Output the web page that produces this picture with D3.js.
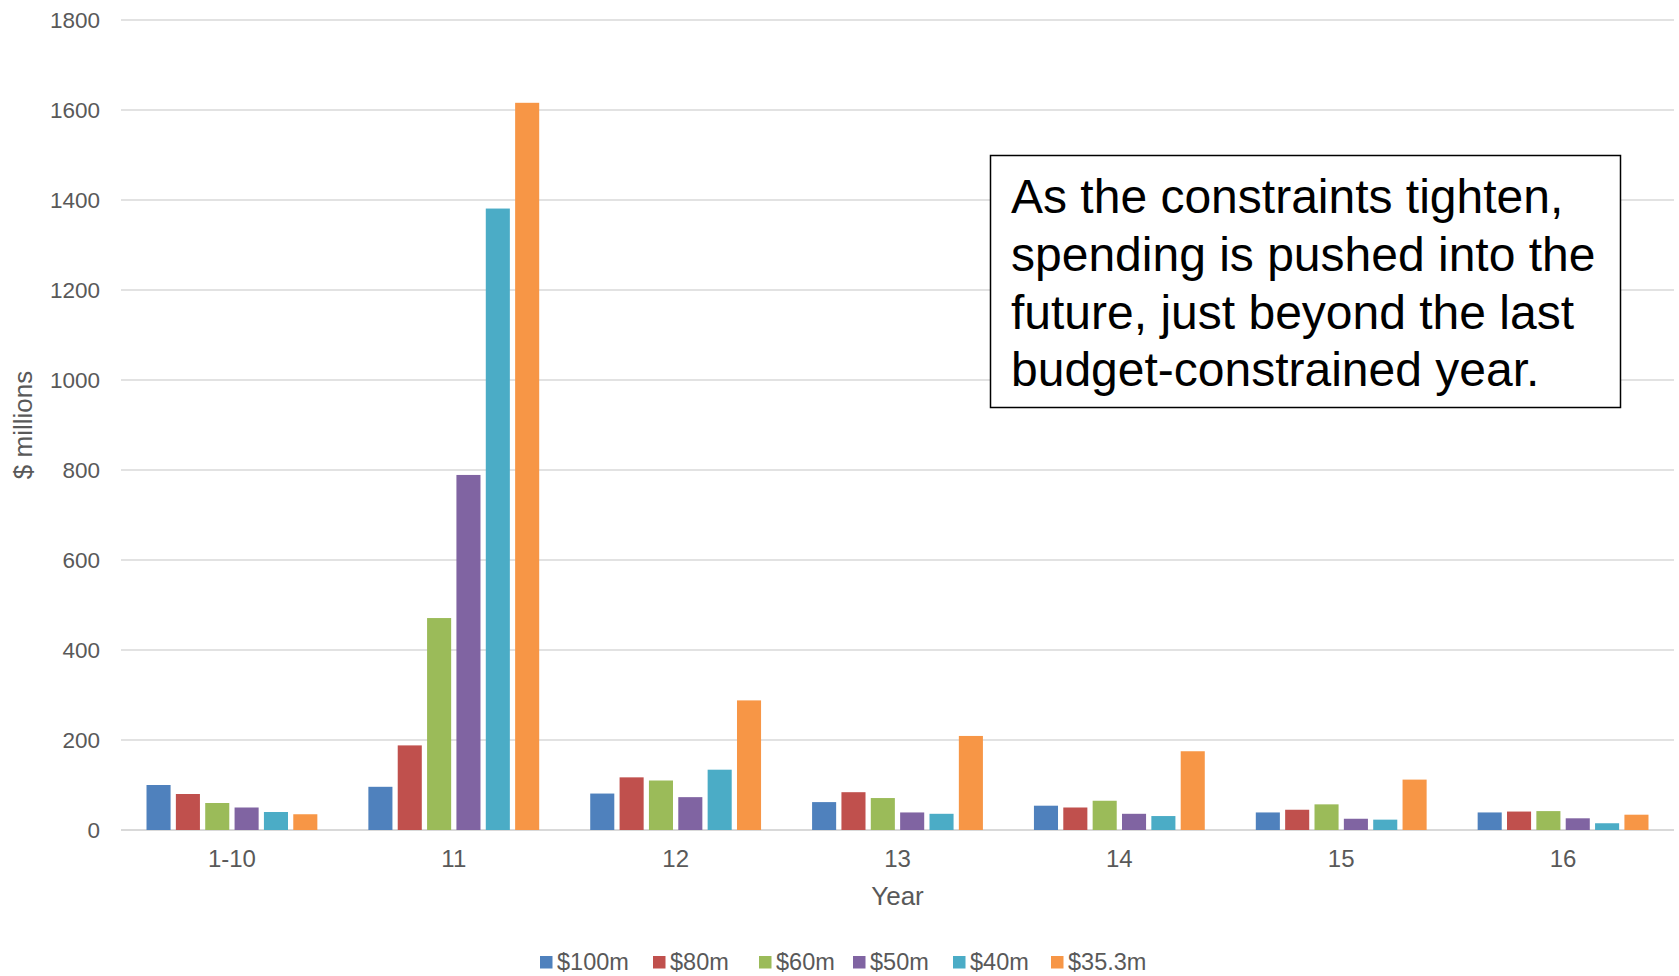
<!DOCTYPE html>
<html>
<head>
<meta charset="utf-8">
<script src="https://cdnjs.cloudflare.com/ajax/libs/d3/7.8.5/d3.min.js"></script>
<style>
  body { margin: 0; background: #fff; }
  text { font-family: "Liberation Sans", Arial, sans-serif; }
</style>
</head>
<body>
<svg id="chart" width="1679" height="976"></svg>
<script>
// chart data
var years = ["1-10", "11", "12", "13", "14", "15", "16"];
var seriesNames = ["$100m", "$80m", "$60m", "$50m", "$40m", "$35.3m"];
var colors = ["#4F81BD", "#C0504D", "#9BBB59", "#8064A2", "#4BACC6", "#F79646"];
var s100 = [100, 96, 81, 62, 54, 39, 39];
var s80 = [80, 188, 117, 84, 50, 45, 41];
var s60 = [60, 471, 110, 71, 65, 57, 42];
var s50 = [50, 789, 73, 39, 36, 25, 26];
var s40 = [40, 1381, 134, 36, 31, 23, 15];
var s35 = [35, 1616, 288, 209, 175, 112, 34];
var yTicks = [0, 200, 400, 600, 800, 1000, 1200, 1400, 1600, 1800];
var note = ["As the constraints tighten,", "spending is pushed into the",
            "future, just beyond the last", "budget-constrained year."];

var allSeries = [s100, s80, s60, s50, s40, s35];

var svg = d3.select("#chart");
var margin = {left: 121, right: 5, top: 20, bottom: 146};
var width = 1679 - margin.left - margin.right;
var height = 976 - margin.top - margin.bottom;

var g = svg.append("g")
    .attr("transform", "translate(" + margin.left + "," + margin.top + ")");

var x0 = d3.scaleBand()
    .domain(years)
    .range([0, width])
    .paddingInner(0.23)
    .paddingOuter(0.115);

var x1 = d3.scaleBand()
    .domain(d3.range(seriesNames.length))
    .range([0, x0.bandwidth()])
    .paddingInner(0.18);

var y = d3.scaleLinear()
    .domain([0, 1800])
    .range([height, 0]);

// gridlines
g.selectAll(".grid")
    .data(yTicks)
    .enter().append("line")
    .attr("class", "grid")
    .attr("x1", 0)
    .attr("x2", width)
    .attr("y1", function (d) { return y(d); })
    .attr("y2", function (d) { return y(d); })
    .style("stroke", "#D9D9D9")
    .style("stroke-width", function (d) { return d == 0 ? 2 : 1.5; });

// y axis labels
var yAxis = d3.axisLeft(y)
    .tickValues(yTicks)
    .tickFormat(d3.format("d"))
    .tickSize(0)
    .tickPadding(21);
g.append("g")
    .call(yAxis)
    .call(function (a) { a.select(".domain").remove(); })
    .selectAll("text")
    .style("font-size", "22.5px")
    .style("fill", "#595959");

// x axis labels
var xAxis = d3.axisBottom(x0).tickSize(0).tickPadding(20);
g.append("g")
    .attr("transform", "translate(0," + height + ")")
    .call(xAxis)
    .call(function (a) { a.select(".domain").remove(); })
    .selectAll("text")
    .style("font-size", "24px")
    .style("fill", "#595959");

// bars
var groups = g.selectAll(".year")
    .data(years)
    .enter().append("g")
    .attr("class", "year")
    .attr("transform", function (d) { return "translate(" + x0(d) + ",0)"; });

groups.selectAll("rect")
    .data(function (d, i) {
        return allSeries.map(function (s, k) { return {k: k, value: s[i]}; });
    })
    .enter().append("rect")
    .attr("x", function (d) { return x1(d.k); })
    .attr("width", x1.bandwidth())
    .attr("y", function (d) { return y(d.value); })
    .attr("height", function (d) { return height - y(d.value); })
    .style("fill", function (d) { return colors[d.k]; });

// axis titles
svg.append("text")
    .attr("x", margin.left + width / 2)
    .attr("y", 905)
    .attr("text-anchor", "middle")
    .style("font-size", "26px")
    .style("fill", "#595959")
    .text("Year");

svg.append("text")
    .attr("transform", "translate(32," + (margin.top + height / 2) + ") rotate(-90)")
    .attr("text-anchor", "middle")
    .style("font-size", "26px")
    .style("fill", "#595959")
    .text("$ millions");

// legend
var legendX = [540, 653, 759, 853, 953, 1051];
var legend = svg.selectAll(".legend")
    .data(seriesNames)
    .enter().append("g")
    .attr("class", "legend")
    .attr("transform", function (d, i) { return "translate(" + legendX[i] + ",956)"; });

legend.append("rect")
    .attr("width", 12.5)
    .attr("height", 12.5)
    .style("fill", function (d, i) { return colors[i]; });

legend.append("text")
    .attr("x", 17)
    .attr("y", 14)
    .style("font-size", "23.5px")
    .style("fill", "#595959")
    .text(function (d) { return d; });

// annotation box
svg.append("rect")
    .attr("x", 990.5)
    .attr("y", 155.5)
    .attr("width", 630)
    .attr("height", 252)
    .style("fill", "#fff")
    .style("stroke", "#000")
    .style("stroke-width", 1.5);

svg.append("g").selectAll("text")
    .data(note)
    .enter().append("text")
    .attr("x", 1011)
    .attr("y", function (d, i) { return 213 + i * 57.8; })
    .style("font-size", "48px")
    .style("fill", "#000")
    .text(function (d) { return d; });
</script>
</body>
</html>
